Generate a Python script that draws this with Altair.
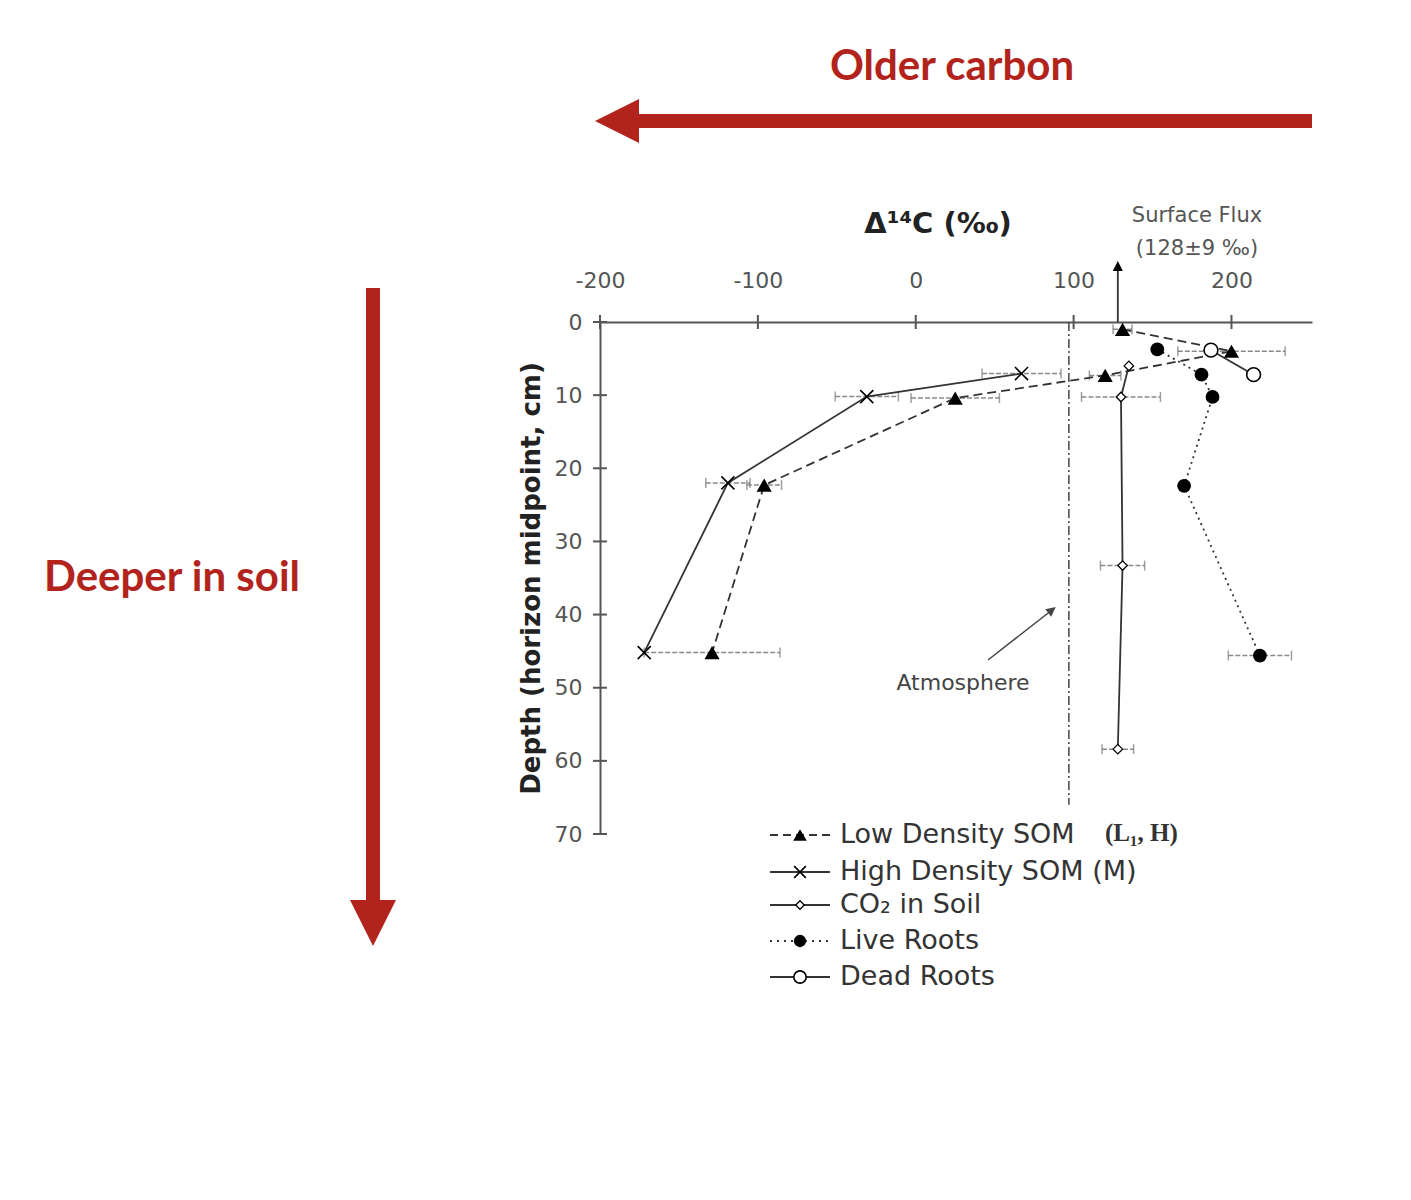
import altair as alt
import pandas as pd

# ---------------- data ----------------
low_val = [131, 200, 120, 25, -96, -129]
low_dep = [1.0, 4.0, 7.3, 10.4, 22.3, 45.2]
low_err = [6, 34, 10, 28, 11, 43]

high_val = [67, -31, -119, -172]
high_dep = [7.05, 10.2, 22.0, 45.2]
high_err = [25, 20, 14, 0]

co2_val = [135, 130, 131, 128]
co2_dep = [6.0, 10.25, 33.3, 58.4]
co2_err = [0, 25, 14, 10]

live_val = [153, 181, 188, 170, 218]
live_dep = [3.75, 7.2, 10.25, 22.4, 45.6]
live_err = [0, 0, 0, 0, 20]

dead_val = [187, 214]
dead_dep = [3.85, 7.2]
dead_err = [0, 0]

atmosphere_value = 97
atmosphere_max_depth = 66
surface_flux_value = 128

x_ticks = [-200, -100, 0, 100, 200]
y_ticks = [0, 10, 20, 30, 40, 50, 60, 70]

legend_labels = ["Low Density SOM", "High Density SOM (M)", "CO\u2082 in Soil", " Live Roots", "Dead Roots"]

# ---------------- styling ----------------
RED = "#B1231B"
INK = "#2b2b2b"
GREY = "#555555"
FONT = "DejaVu Sans"
W, H = 712, 512

xs = alt.Scale(domain=[-200, 251], nice=False, zero=False)
ys = alt.Scale(domain=[0, 70], nice=False, zero=False, reverse=True)
x_axis = alt.Axis(orient="top", values=x_ticks, title=None, ticks=False, tickSize=0,
                  labelPadding=30, labelFont=FONT, labelFontSize=22, labelColor=GREY,
                  labelExpr="'' + datum.value",
                  domainColor=GREY, domainWidth=2, grid=False, labelFlush=False)
y_axis = alt.Axis(orient="left", values=y_ticks, title="Depth (horizon midpoint, cm)",
                  ticks=False, tickSize=0, labelPadding=18, labelFont=FONT, labelFontSize=22,
                  labelColor=GREY, domainColor=GREY, domainWidth=2, grid=False,
                  labelExpr="'' + datum.value",
                  titleFont=FONT, titleFontSize=26, titleFontWeight="bold", titleColor="#222",
                  titlePadding=10)


def X(field):
    return alt.X(field, type="quantitative", scale=xs, axis=x_axis)


def Y(field):
    return alt.Y(field, type="quantitative", scale=ys, axis=y_axis)


def frame(vals, deps, errs):
    return pd.DataFrame({"v": vals, "d": deps, "e": errs, "seq": list(range(len(vals))),
                         "lo": [v - e for v, e in zip(vals, errs)],
                         "hi": [v + e for v, e in zip(vals, errs)]})


low = frame(low_val, low_dep, low_err)
high = frame(high_val, high_dep, high_err)
co2 = frame(co2_val, co2_dep, co2_err)
live = frame(live_val, live_dep, live_err)
dead = frame(dead_val, dead_dep, dead_err)

errs = pd.concat([low, high, co2, live, dead])
errs = errs[errs["e"] > 0]

one = pd.DataFrame({"k": [0]})

layers = []

# axis ticks crossing the axis lines
layers.append(alt.Chart(pd.DataFrame({"t": x_ticks})).mark_rule(color=GREY, strokeWidth=2).encode(
    x=X("t"), y=alt.value(-7), y2=alt.value(7)))
layers.append(alt.Chart(pd.DataFrame({"t": y_ticks})).mark_rule(color=GREY, strokeWidth=2).encode(
    y=Y("t"), x=alt.value(-7), x2=alt.value(7)))

# atmosphere line
layers.append(alt.Chart(pd.DataFrame({"v": [atmosphere_value], "d0": [0], "d1": [atmosphere_max_depth]}))
              .mark_rule(color="#444", strokeWidth=1.5, strokeDash=[9, 3, 2, 3])
              .encode(x=X("v"), y=Y("d0"), y2="d1"))

# error bars
layers.append(alt.Chart(errs).mark_rule(color="#8a8a8a", strokeWidth=1.5, strokeDash=[5, 2]).encode(
    x=X("lo"), x2="hi", y=Y("d")))
for f in ["lo", "hi"]:
    layers.append(alt.Chart(errs).mark_tick(color="#777", orient="vertical", size=10, thickness=1.5).encode(
        x=X(f), y=Y("d")))

# series lines
line_styles = [(low, [9, 5]), (high, None), (co2, None), (live, [2, 4]), (dead, None)]
for df, dash in line_styles:
    kw = dict(color="#333", strokeWidth=1.8)
    if dash:
        kw["strokeDash"] = dash
    layers.append(alt.Chart(df).mark_line(**kw).encode(x=X("v"), y=Y("d"), order=alt.Order("seq:Q")))

XSHAPE = "M-1,-1L1,1M1,-1L-1,1"
marker_specs = [
    (low, dict(shape="triangle-up", filled=True, color="black", size=230)),
    (high, dict(shape=XSHAPE, filled=False, color="black", strokeWidth=1.6, size=170)),
    (co2, dict(shape="diamond", filled=True, color="white", stroke="black", strokeWidth=1.3, size=90)),
    (live, dict(shape="circle", filled=True, color="black", size=190)),
    (dead, dict(shape="circle", filled=True, color="white", stroke="black", strokeWidth=1.6, size=190)),
]
for df, kw in marker_specs:
    layers.append(alt.Chart(df).mark_point(opacity=1, **kw).encode(x=X("v"), y=Y("d")))

# surface flux arrow
sf = pd.DataFrame({"v": [surface_flux_value]})
layers.append(alt.Chart(sf).mark_rule(color="#333", strokeWidth=1.8).encode(
    x=X("v"), y=alt.value(0), y2=alt.value(-52)))
layers.append(alt.Chart(sf).mark_point(shape="M0,-1L-1,1L1,1Z", filled=True, color="black",
                                       size=100, opacity=1).encode(x=X("v"), y=alt.value(-56)))


def text(s, x, y, **kw):
    base = dict(font=FONT, fontSize=22, color="#444", align="center", baseline="middle")
    base.update(kw)
    return alt.Chart(one).mark_text(text=s, **base).encode(x=alt.value(x), y=alt.value(y))


layers.append(text("Surface Flux", 597, -106, fontSize=21, color="#555"))
layers.append(text("(128\u00b19 \u2030)", 597, -73, fontSize=21, color="#555"))
layers.append(text("\u0394\u00b9\u2074C (\u2030)", 338, -98, fontSize=29, fontWeight="bold", color="#222"))

# atmosphere annotation
layers.append(text("Atmosphere", 363, 361, fontSize=22, color="#444"))
layers.append(alt.Chart(one).mark_rule(color="#444", strokeWidth=1.5).encode(
    x=alt.value(388), y=alt.value(338), x2=alt.value(452), y2=alt.value(288)))
layers.append(alt.Chart(one).mark_point(shape="M0,-1L-1,1L1,1Z", filled=True, color="#444", size=90,
                                        angle=52, opacity=1).encode(x=alt.value(452), y=alt.value(288)))

# legend
row_y = [513, 550, 583, 619, 655]
leg_dash = [[8, 5], None, None, [2, 5], None]
for i, (lab, ypix) in enumerate(zip(legend_labels, row_y)):
    kw = dict(color="#333", strokeWidth=1.8)
    if leg_dash[i]:
        kw["strokeDash"] = leg_dash[i]
    layers.append(alt.Chart(one).mark_rule(**kw).encode(
        x=alt.value(170), x2=alt.value(230), y=alt.value(ypix)))
    mk = dict(marker_specs[i][1])
    mk["size"] = mk["size"] * 0.8
    layers.append(alt.Chart(one).mark_point(opacity=1, **mk).encode(x=alt.value(200), y=alt.value(ypix)))
    layers.append(text(lab, 240, ypix, fontSize=27, color="#333", align="left"))
layers.append(text("(L\u2081, H)", 505, 511, font="Liberation Serif", fontSize=25, fontWeight="bold",
                   color="#333", align="left"))

# red annotations
layers.append(alt.Chart(one).mark_rule(color=RED, strokeWidth=14).encode(
    x=alt.value(30), x2=alt.value(712), y=alt.value(-201)))
layers.append(alt.Chart(one).mark_point(shape="M-1,0L1,-1L1,1Z", filled=True, color=RED, size=44 * 44,
                                        opacity=1).encode(x=alt.value(17), y=alt.value(-201)))
layers.append(text("Older carbon", 352, -255, font="Lato", fontSize=42, fontWeight="bold", color=RED))

layers.append(alt.Chart(one).mark_rule(color=RED, strokeWidth=14).encode(
    x=alt.value(-227), y=alt.value(-34), y2=alt.value(584)))
layers.append(alt.Chart(one).mark_point(shape="M0,1L-1,-1L1,-1Z", filled=True, color=RED, size=46 * 46,
                                        opacity=1).encode(x=alt.value(-227), y=alt.value(601)))
layers.append(text("Deeper in soil", -428, 256, font="Lato", fontSize=42, fontWeight="bold", color=RED))

chart = alt.layer(*layers).properties(
    width=W, height=H,
    autosize=alt.AutoSizeParams(type="none"),
    padding={"left": 592, "top": 314, "right": 80, "bottom": 340},
    background="white",
).configure_view(stroke=None)

chart.save("out.html", embed_options={"renderer": "svg", "actions": False})
